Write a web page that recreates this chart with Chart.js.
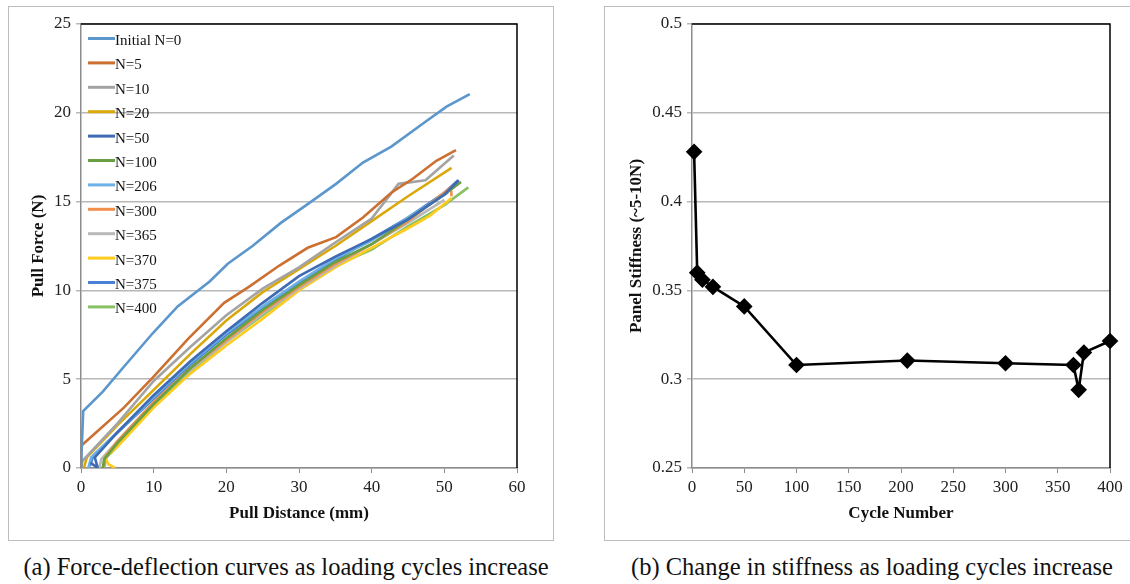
<!DOCTYPE html>
<html>
<head>
<meta charset="utf-8">
<script src="https://cdn.jsdelivr.net/npm/chart.js@4"></script>
<style>
  body { margin: 0; background: #fff; width: 1130px; height: 584px; position: relative; overflow: hidden; font-family: "Liberation Serif", "Times New Roman", Times, "DejaVu Serif", serif; }
  .box { position: absolute; top: 6px; height: 533px; border: 1px solid #bdbdbd; }
  #boxA { left: 8px; width: 544px; }
  #boxB { left: 604px; width: 540px; }
  .box canvas { position: absolute; left: 0; top: 0; }
  .cap { position: absolute; top: 553px; font-size: 24.5px; color: #111; white-space: nowrap; transform: translateX(-50%); }
</style>
</head>
<body>
<div class="box" id="boxA"><canvas id="chartA" width="544" height="533"></canvas></div>
<div class="box" id="boxB"><canvas id="chartB" width="540" height="533"></canvas></div>
<div class="cap" style="left:286px">(a) Force-deflection curves as loading cycles increase</div>
<div class="cap" style="left:872px">(b) Change in stiffness as loading cycles increase</div>
<script>
// ── Daten (a): Kraft über Weg, [mm, N] ────────────────────────────────
const curveN0   = [[0,0],[0.3,3.2],[3,4.3],[5.9,5.7],[9.9,7.6],[13.3,9.1],[17.7,10.5],[20.2,11.5],[23.6,12.5],[27.5,13.8],[31,14.8],[35.1,16],[38.8,17.2],[42.7,18.1],[47.4,19.5],[50.3,20.35],[53.5,21.05]];
const curveN5   = [[0,0],[0,1.25],[0.3,1.35],[5.9,3.4],[9.9,5.1],[14.8,7.3],[19.7,9.3],[23.1,10.2],[27.3,11.4],[31.2,12.4],[35.1,13],[38.8,14.1],[42.7,15.5],[45.7,16.3],[48.9,17.3],[51.6,17.9]];
const curveN10  = [[0,0],[0.2,0.4],[5,2.5],[10,4.9],[15,6.8],[20,8.6],[25,10.1],[30,11.3],[35,12.7],[40,14.05],[43.7,16],[47.4,16.2],[51.3,17.6]];
const curveN20  = [[0.4,0],[0.8,0.6],[5,2.4],[10,4.4],[15,6.4],[20,8.3],[25,9.9],[30,11.2],[35,12.5],[40,13.9],[45,15.3],[51,16.9]];
const curveN50  = [[1.3,0.3],[2.3,0],[1.9,0.6],[5,2],[10,4.1],[15,6],[20,7.7],[25,9.3],[30,10.8],[35,11.9],[40,12.9],[45,14],[50,15.4],[52,16.2]];
const curveN100 = [[3,0],[3.2,0.5],[5,1.4],[10,3.6],[15,5.6],[20,7.3],[25,8.9],[30,10.3],[35,11.6],[40,12.6],[45,14],[50,15.4],[52.3,16.1]];
const curveN206 = [[1,0],[1.4,0.6],[5,2],[10,4],[15,5.9],[20,7.6],[25,9.1],[30,10.5],[35,11.8],[40,12.8],[45,14.1],[50.5,15.5]];
const curveN300 = [[3,0],[3.3,0.6],[5,1.5],[10,3.7],[15,5.6],[20,7.2],[25,8.8],[30,10.2],[35,11.5],[40,12.6],[45,13.9],[50.9,15.8],[51,15.3]];
const curveN365 = [[2.5,0],[2.8,0.5],[5,1.5],[10,3.7],[15,5.5],[20,7.1],[25,8.7],[30,10.1],[35,11.4],[40,12.6],[45,13.8],[50,15.1]];
const curveN370 = [[4.7,0],[3.8,0.2],[3.3,0.6],[5,1.2],[10,3.4],[15,5.3],[20,6.9],[25,8.4],[30,10],[35,11.3],[40,12.4],[45,13.5],[48,14.2],[51,15.2]];
const curveN375 = [[1.2,0.1],[1.7,0.7],[5,2],[10,3.9],[15,5.8],[20,7.5],[25,9],[30,10.4],[35,11.7],[40,12.9],[45,14.1],[50,15.5],[51.9,16.2]];
const curveN400 = [[3.2,0],[3.5,0.6],[4.5,1],[10,3.5],[15,5.4],[20,7.1],[25,8.6],[30,10.1],[35,11.4],[40,12.3],[45,13.6],[50,14.8],[53.3,15.8]];

const seriesNames  = ['Initial N=0','N=5','N=10','N=20','N=50','N=100','N=206','N=300','N=365','N=370','N=375','N=400'];
const seriesCurves = [curveN0, curveN5, curveN10, curveN20, curveN50, curveN100, curveN206, curveN300, curveN365, curveN370, curveN375, curveN400];
const seriesColors = ['#5b96cc','#cc7031','#a3a3a3','#d9a90c','#3f6bb4','#68a043','#6cb0e6','#f08f4e','#b8b8b8','#ffcb1c','#4a80d6','#88c064'];

// ── Daten (b): Steifigkeit über Zyklen ───────────────────────────────
const cycles    = [2, 5, 10, 20, 50, 100, 206, 300, 365, 370, 375, 400];
const stiffness = [0.428, 0.36, 0.356, 0.352, 0.341, 0.308, 0.3105, 0.309, 0.308, 0.294, 0.315, 0.3215];

const FONT    = '"Liberation Serif", "Times New Roman", Times, "DejaVu Serif", serif';
const GRID    = '#b8b8b8';
const AXIS    = '#8c8c8c';
const TICKCOL = '#222';

// Plotbereich oben/rechts schwarz umranden
const frame = {
  id: 'frame',
  afterDatasetsDraw(chart) {
    const { ctx, chartArea: a } = chart;
    ctx.save();
    ctx.strokeStyle = '#000';
    ctx.lineWidth = 1.5;
    ctx.beginPath();
    ctx.moveTo(a.left, a.top);
    ctx.lineTo(a.right, a.top);
    ctx.lineTo(a.right, a.bottom);
    ctx.stroke();
    ctx.restore();
  },
};

// Legende innerhalb des Plotbereichs, senkrecht gestapelt
const innerLegend = {
  id: 'innerLegend',
  afterDraw(chart) {
    const { ctx } = chart;
    ctx.save();
    ctx.font = `15px ${FONT}`;
    ctx.textBaseline = 'middle';
    chart.data.datasets.forEach((ds, i) => {
      const y = 31.5 + i * 24.4;
      ctx.strokeStyle = ds.borderColor;
      ctx.lineWidth = 3;
      ctx.beginPath();
      ctx.moveTo(79, y);
      ctx.lineTo(106, y);
      ctx.stroke();
      ctx.fillStyle = '#111';
      ctx.fillText(ds.label, 106, y + 2.5);
    });
    ctx.restore();
  },
};

function axisTitle(text, pad) {
  return { display: true, text, color: '#111', font: { family: FONT, size: 17, weight: 'bold' }, padding: pad };
}

function tickFont() {
  return { family: FONT, size: 17 };
}

new Chart(document.getElementById('chartA'), {
  type: 'scatter',
  data: {
    datasets: seriesCurves.map((c, i) => ({
      label: seriesNames[i],
      data: c.map(([x, y]) => ({ x, y })),
      showLine: true,
      borderColor: seriesColors[i],
      backgroundColor: seriesColors[i],
      borderWidth: 2.6,
      pointRadius: 0,
      tension: 0,
    })),
  },
  options: {
    responsive: false, animation: false,
    layout: { padding: { left: 0, right: 36, top: 17, bottom: 0 } },
    plugins: { legend: { display: false }, tooltip: { enabled: false } },
    scales: {
      x: {
        type: 'linear', min: 0, max: 60,
        afterFit: s => { s.height = 72; },
        ticks: { stepSize: 10, color: TICKCOL, font: tickFont(), padding: 4, maxRotation: 0 },
        grid: { drawOnChartArea: false, tickLength: 5, color: AXIS },
        border: { color: AXIS, width: 1.5 },
        title: axisTitle('Pull Distance (mm)', { top: 0, bottom: 16 }),
      },
      y: {
        type: 'linear', min: 0, max: 25,
        afterFit: s => { s.width = 72; },
        ticks: { stepSize: 5, color: TICKCOL, font: tickFont(), padding: 5 },
        grid: { color: GRID, lineWidth: 1.5, tickLength: 5 },
        border: { color: AXIS, width: 1.5 },
        title: axisTitle('Pull Force (N)', { top: 19, bottom: 0 }),
      },
    },
  },
  plugins: [frame, innerLegend],
});

new Chart(document.getElementById('chartB'), {
  type: 'line',
  data: {
    datasets: [{
      data: cycles.map((c, i) => ({ x: c, y: stiffness[i] })),
      borderColor: '#000',
      backgroundColor: '#000',
      borderWidth: 2.6,
      pointStyle: 'rectRot',
      pointRadius: 6.5,
      tension: 0,
      clip: false,
    }],
  },
  options: {
    responsive: false, animation: false,
    layout: { padding: { left: 0, right: 35, top: 17, bottom: 0 } },
    plugins: { legend: { display: false }, tooltip: { enabled: false } },
    scales: {
      x: {
        type: 'linear', min: 0, max: 400,
        afterFit: s => { s.height = 72; },
        ticks: { stepSize: 50, color: TICKCOL, font: tickFont(), padding: 4, maxRotation: 0 },
        grid: { drawOnChartArea: false, tickLength: 5, color: AXIS },
        border: { color: AXIS, width: 1.5 },
        title: axisTitle('Cycle Number', { top: 0, bottom: 16 }),
      },
      y: {
        type: 'linear', min: 0.25, max: 0.5,
        afterFit: s => { s.width = 87; },
        ticks: { stepSize: 0.05, color: TICKCOL, font: tickFont(), padding: 5, callback: v => String(+v.toFixed(2)) },
        grid: { color: GRID, lineWidth: 1.5, tickLength: 5 },
        border: { color: AXIS, width: 1.5 },
        title: axisTitle('Panel Stiffness (~5-10N)', { top: 21, bottom: 0 }),
      },
    },
  },
  plugins: [frame],
});
</script>
</body>
</html>
